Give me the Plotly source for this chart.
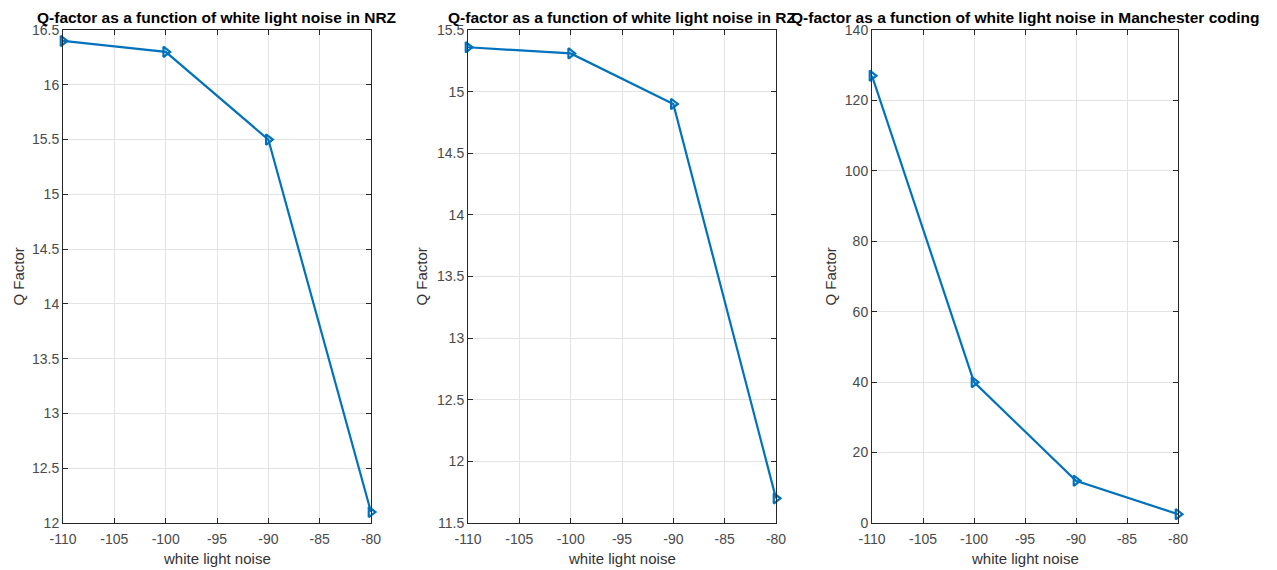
import plotly.graph_objects as go

noise = [-110, -100, -90, -80]
q_nrz = [16.4, 16.3, 15.5, 12.1]
q_rz = [15.36, 15.31, 14.9, 11.7]
q_man = [127, 40, 12, 2.5]

x_ticks = [-110, -105, -100, -95, -90, -85, -80]
x_tick_text = ["-110", "-105", "-100", "-95", "-90", "-85", "-80"]

titles = [
    "Q-factor as a function of white light noise in NRZ",
    "Q-factor as a function of white light noise in RZ",
    "Q-factor as a function of white light noise in Manchester coding",
]
x_label = "white light noise"
y_label = "Q Factor"
yranges = [(12, 16.5, 0.5), (11.5, 15.5, 0.5), (0, 140, 20)]
series = [q_nrz, q_rz, q_man]

W, H = 1269, 562
ml, mt = 55, 22
pw, ph = 1115, 493
mr, mb = W - ml - pw, H - mt - ph
doms = [(0, 308 / pw), ((468 - 63) / pw, (776 - 63) / pw), ((872 - 63) / pw, 1.0)]
ytitle_shift = [-45, -47, -42]

fig = go.Figure()
font = "Liberation Sans, Arial, Helvetica, sans-serif"
axcol = "#262626"
tickcol = "#4a4a4a"
labcol = "#333333"
for i in range(3):
    sfx = "" if i == 0 else str(i + 1)
    fig.add_trace(go.Scatter(
        x=noise, y=series[i], mode="lines+markers",
        line=dict(color="#0072BD", width=2.2),
        marker=dict(symbol="triangle-right-open", size=9, color="#0072BD",
                    line=dict(width=2.2, color="#0072BD")),
        xaxis="x" + sfx, yaxis="y" + sfx, showlegend=False, cliponaxis=False,
    ))
    lo, hi, dt = yranges[i]
    fig.layout["xaxis" + sfx] = dict(
        domain=doms[i], range=[-110, -80], tickvals=x_ticks, ticktext=x_tick_text,
        anchor="y" + sfx, automargin=False,
        showgrid=True, gridcolor="#e3e3e3", gridwidth=1, zeroline=False,
        showline=True, linecolor=axcol, linewidth=1, mirror="ticks",
        ticks="inside", ticklen=5, tickcolor=axcol, ticklabelstandoff=3,
        tickfont=dict(family=font, size=14, color=tickcol),
    )
    fig.layout["yaxis" + sfx] = dict(
        domain=[0, 1], range=[lo, hi], dtick=dt, tick0=lo, anchor="x" + sfx,
        automargin=False,
        showgrid=True, gridcolor="#e3e3e3", gridwidth=1, zeroline=False,
        showline=True, linecolor=axcol, linewidth=1, mirror="ticks",
        ticks="inside", ticklen=5, tickcolor=axcol,
        tickfont=dict(family=font, size=14, color=tickcol),
    )
    fig.add_annotation(
        text="<b>" + titles[i] + "</b>", xref="x" + sfx + " domain", yref="paper",
        x=0.5, y=1.0, yshift=2, xanchor="center", yanchor="bottom", showarrow=False,
        font=dict(family=font, size=15.5, color="#000000"),
    )
    fig.add_annotation(
        text=x_label, xref="x" + sfx + " domain", yref="paper",
        x=0.5, y=0, yshift=-35, xanchor="center", yanchor="middle", showarrow=False,
        font=dict(family=font, size=15, color=labcol),
    )
    fig.add_annotation(
        text=y_label, xref="x" + sfx + " domain", yref="paper", textangle=-90,
        x=0, y=0.5, xshift=ytitle_shift[i], xanchor="center", yanchor="middle",
        showarrow=False, font=dict(family=font, size=15, color=labcol),
    )

fig.update_layout(
    width=W, height=H, margin=dict(l=ml, r=mr, t=mt, b=mb),
    paper_bgcolor="white", plot_bgcolor="white",
)
fig.write_html("out.html")
